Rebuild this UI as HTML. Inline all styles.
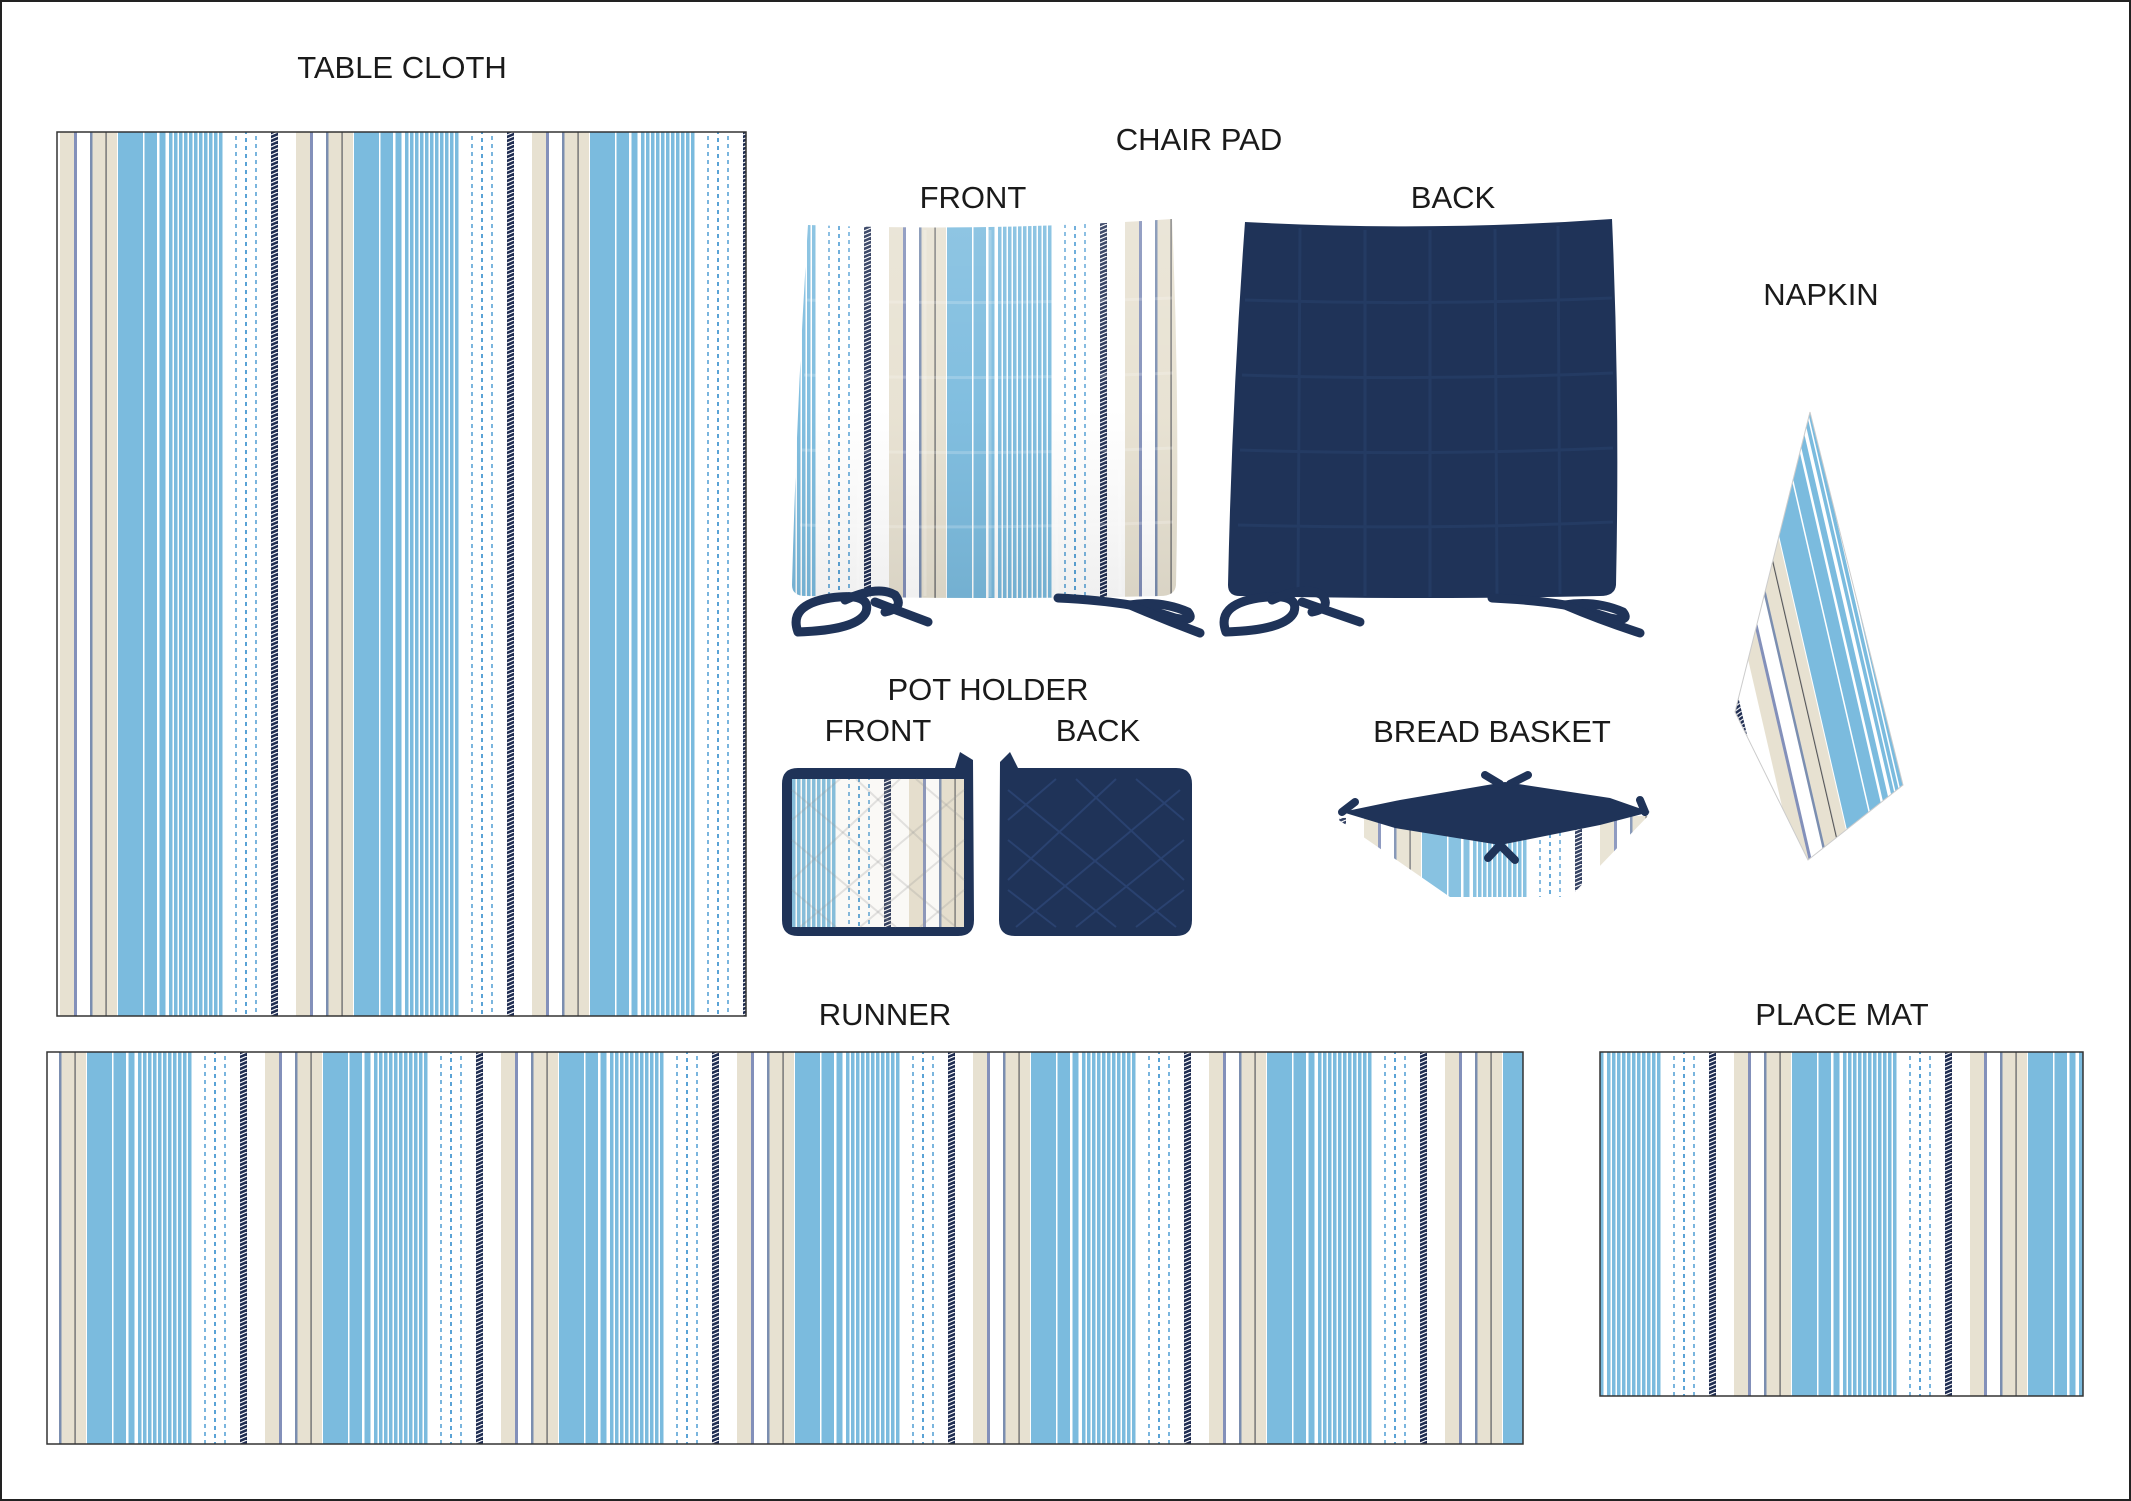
<!DOCTYPE html>
<html><head><meta charset="utf-8"><style>
html,body{margin:0;padding:0;background:#fff}
svg{display:block}
text{font-family:"Liberation Sans",Arial,sans-serif;font-size:31px;fill:#1a1a1a;text-anchor:middle}
</style></head><body>
<svg width="2131" height="1501" viewBox="0 0 2131 1501" xmlns="http://www.w3.org/2000/svg">
<defs>
<g id="unit">
<rect x="0" y="0" width="236" height="16" fill="#fff"/>
<rect x="4" y="0" width="14" height="16" fill="#e7e1d1"/>
<rect x="18" y="0" width="3" height="16" fill="#8390ba"/>
<rect x="34" y="0" width="2.5" height="16" fill="#7b8eb0"/>
<rect x="36.5" y="0" width="13" height="16" fill="#e7e1d1"/>
<rect x="49.5" y="0" width="1.2" height="16" fill="#555"/>
<rect x="51" y="0" width="10" height="16" fill="#e7e1d1"/>
<rect x="62" y="0" width="25" height="16" fill="#7bbbde"/>
<rect x="88.5" y="0" width="12.5" height="16" fill="#7bbbde"/>
<rect x="103.5" y="0" width="6" height="16" fill="#7bbbde"/>
<rect x="113" y="0" width="3.5" height="16" fill="#7bbbde"/>
<rect x="118" y="0" width="3.5" height="16" fill="#7bbbde"/>
<rect x="123" y="0" width="3.5" height="16" fill="#7bbbde"/>
<rect x="128" y="0" width="3.5" height="16" fill="#7bbbde"/>
<rect x="133" y="0" width="3.5" height="16" fill="#7bbbde"/>
<rect x="138" y="0" width="3.5" height="16" fill="#7bbbde"/>
<rect x="143" y="0" width="3.5" height="16" fill="#7bbbde"/>
<rect x="148" y="0" width="3.5" height="16" fill="#7bbbde"/>
<rect x="153" y="0" width="3.5" height="16" fill="#7bbbde"/>
<rect x="158" y="0" width="3.5" height="16" fill="#7bbbde"/>
<rect x="163" y="0" width="3.5" height="16" fill="#7bbbde"/>
<line x1="180" y1="0" x2="180" y2="16" stroke="#5aa3d6" stroke-width="1.6" stroke-dasharray="4 4"/>
<line x1="190" y1="2" x2="190" y2="18" stroke="#5aa3d6" stroke-width="2" stroke-dasharray="4 4"/>
<line x1="200" y1="0" x2="200" y2="16" stroke="#5aa3d6" stroke-width="1.6" stroke-dasharray="4 4"/>
<rect x="215" y="0" width="7" height="16" fill="#1f2d52"/>
<path d="M215 3 L222 0 M215 7 L222 4 M215 11 L222 8 M215 15 L222 12" stroke="#fff" stroke-width="1.2"/>
</g>
<pattern id="pTC" patternUnits="userSpaceOnUse" x="56" y="0" width="236" height="16"><use href="#unit"/></pattern>
<pattern id="pRU" patternUnits="userSpaceOnUse" x="25" y="0" width="236" height="16"><use href="#unit"/></pattern>
<pattern id="pPM" patternUnits="userSpaceOnUse" x="1494" y="0" width="236" height="16"><use href="#unit"/></pattern>
<pattern id="pCF" patternUnits="userSpaceOnUse" x="649" y="0" width="236" height="16"><use href="#unit"/></pattern>
<pattern id="pPH" patternUnits="userSpaceOnUse" x="669" y="0" width="236" height="16"><use href="#unit"/></pattern>
<pattern id="pBB" patternUnits="userSpaceOnUse" x="1360" y="0" width="236" height="16"><use href="#unit"/></pattern>
<pattern id="pNP" patternUnits="userSpaceOnUse" x="1454" y="0" width="236" height="16" patternTransform="rotate(-13 1810 412)"><use href="#unit"/></pattern>
<linearGradient id="shade" x1="0" y1="0" x2="0" y2="1">
<stop offset="0" stop-color="#fff" stop-opacity="0.15"/>
<stop offset="0.5" stop-color="#fff" stop-opacity="0.05"/>
<stop offset="1" stop-color="#000" stop-opacity="0.06"/>
</linearGradient>
</defs>

<rect x="1" y="1" width="2129" height="1499" fill="#fff" stroke="#222" stroke-width="2"/>

<text x="402" y="78">TABLE CLOTH</text>
<text x="1199" y="150">CHAIR PAD</text>
<text x="973" y="208">FRONT</text>
<text x="1453" y="208">BACK</text>
<text x="1821" y="305">NAPKIN</text>
<text x="988" y="700">POT HOLDER</text>
<text x="878" y="741">FRONT</text>
<text x="1098" y="741">BACK</text>
<text x="1492" y="742">BREAD BASKET</text>
<text x="885" y="1025">RUNNER</text>
<text x="1842" y="1025">PLACE MAT</text>

<rect x="57" y="132" width="689" height="884" fill="url(#pTC)" stroke="#333" stroke-width="1.5"/>
<rect x="47" y="1052" width="1476" height="392" fill="url(#pRU)" stroke="#333" stroke-width="1.5"/>
<rect x="1600" y="1052" width="483" height="344" fill="url(#pPM)" stroke="#333" stroke-width="1.5"/>

<!-- chair pad front -->
<path d="M808 225 Q990 232 1172 219 Q1180 400 1176 585 Q1175 596 1160 596 Q990 600 806 596 Q792 596 792 585 Q797 400 808 225 Z" fill="url(#pCF)"/>
<path d="M808 225 Q990 232 1172 219 Q1180 400 1176 585 Q1175 596 1160 596 Q990 600 806 596 Q792 596 792 585 Q797 400 808 225 Z" fill="url(#shade)"/>
<g stroke="#fff" stroke-opacity="0.2" stroke-width="3" fill="none">
<path d="M860 228 L858 594 M925 230 L925 596 M990 230 L990 597 M1055 229 L1057 596 M1118 226 L1120 594"/>
<path d="M806 300 Q990 306 1172 298 M804 375 Q990 381 1173 373 M802 450 Q990 456 1173 448 M800 525 Q990 530 1173 522"/>
</g>
<g stroke="#1f3358" stroke-width="9" fill="none" stroke-linecap="round" stroke-linejoin="round">
<path d="M798 632 Q788 605 830 598 Q872 592 866 612 Q858 630 798 632"/>
<path d="M845 600 Q878 585 895 595 Q905 608 885 612"/>
<path d="M875 602 L928 622"/>
<path d="M1058 598 Q1100 600 1130 605 Q1160 600 1188 612 Q1196 622 1175 618 Q1150 610 1130 605"/>
<path d="M1130 605 Q1165 620 1200 633"/>
</g>

<!-- chair pad back -->
<path d="M1245 222 Q1430 232 1612 219 Q1620 400 1616 585 Q1615 596 1600 596 Q1430 600 1240 596 Q1228 596 1228 585 Q1232 400 1245 222 Z" fill="#1f3358"/>
<g stroke="#243b63" stroke-width="3" fill="none">
<path d="M1300 228 L1298 594 M1365 230 L1365 596 M1430 230 L1430 597 M1495 229 L1497 596 M1558 226 L1560 594"/>
<path d="M1245 300 Q1430 306 1612 298 M1242 375 Q1430 381 1613 373 M1240 450 Q1430 456 1613 448 M1238 525 Q1430 530 1613 522"/>
</g>
<g stroke="#1f3358" stroke-width="9" fill="none" stroke-linecap="round" stroke-linejoin="round">
<path d="M1226 632 Q1216 605 1258 598 Q1300 592 1294 612 Q1286 630 1226 632"/>
<path d="M1272 600 Q1305 585 1322 595 Q1332 608 1312 612"/>
<path d="M1302 602 L1360 622"/>
<path d="M1492 598 Q1535 600 1565 605 Q1595 600 1623 612 Q1631 622 1610 618 Q1585 610 1565 605"/>
<path d="M1565 605 Q1600 620 1640 633"/>
</g>

<!-- pot holder front -->
<path d="M955 768 L960 752 L973 760 L974 920 Q974 936 958 936 L798 936 Q782 936 782 920 L782 784 Q782 768 798 768 Z" fill="#1f3358"/>
<rect x="792" y="779" width="172" height="148" fill="url(#pPH)"/>
<rect x="792" y="779" width="172" height="148" fill="#d9cfb5" opacity="0.12"/>
<g stroke="#999" stroke-opacity="0.25" stroke-width="2">
<path d="M792 820 L840 779 M792 880 L900 779 M800 927 L964 790 M860 927 L964 840 M920 927 L964 890"/>
<path d="M964 820 L916 779 M964 880 L856 779 M956 927 L792 790 M896 927 L792 840 M836 927 L792 890"/>
</g>
<!-- pot holder back -->
<path d="M1018 768 L1010 752 L1000 762 L999 920 Q999 936 1015 936 L1176 936 Q1192 936 1192 920 L1192 784 Q1192 768 1176 768 Z" fill="#1f3358"/>
<g stroke="#2a4270" stroke-width="2">
<path d="M1008 820 L1056 779 M1008 880 L1116 779 M1016 927 L1180 790 M1076 927 L1184 840 M1136 927 L1184 890"/>
<path d="M1184 820 L1136 779 M1184 880 L1076 779 M1176 927 L1008 790 M1116 927 L1008 840 M1056 927 L1008 890"/>
</g>

<!-- bread basket -->
<path d="M1336 818 L1648 816 L1570 897 L1450 897 Z" fill="url(#pBB)"/>
<path d="M1336 818 L1648 816 L1570 897 L1450 897 Z" fill="#fff" opacity="0.1"/>
<path d="M1342 812 L1400 800 L1505 782 L1610 798 L1650 812 L1600 825 L1500 845 L1395 828 Z" fill="#1f3358"/>
<g stroke="#1f3358" stroke-width="8" fill="none" stroke-linecap="round">
<path d="M1500 784 L1485 775 M1510 784 L1528 775 M1342 812 L1355 802 M1645 812 L1640 800 M1500 845 L1488 858 M1500 845 L1515 860"/>
</g>

<!-- napkin -->
<path d="M1810 412 L1903 785 L1808 860 L1735 712 Z" fill="url(#pNP)"/>
<path d="M1810 412 L1903 785 L1808 860 L1735 712 Z" fill="none" stroke="#ccc" stroke-width="1"/>
</svg>
</body></html>
